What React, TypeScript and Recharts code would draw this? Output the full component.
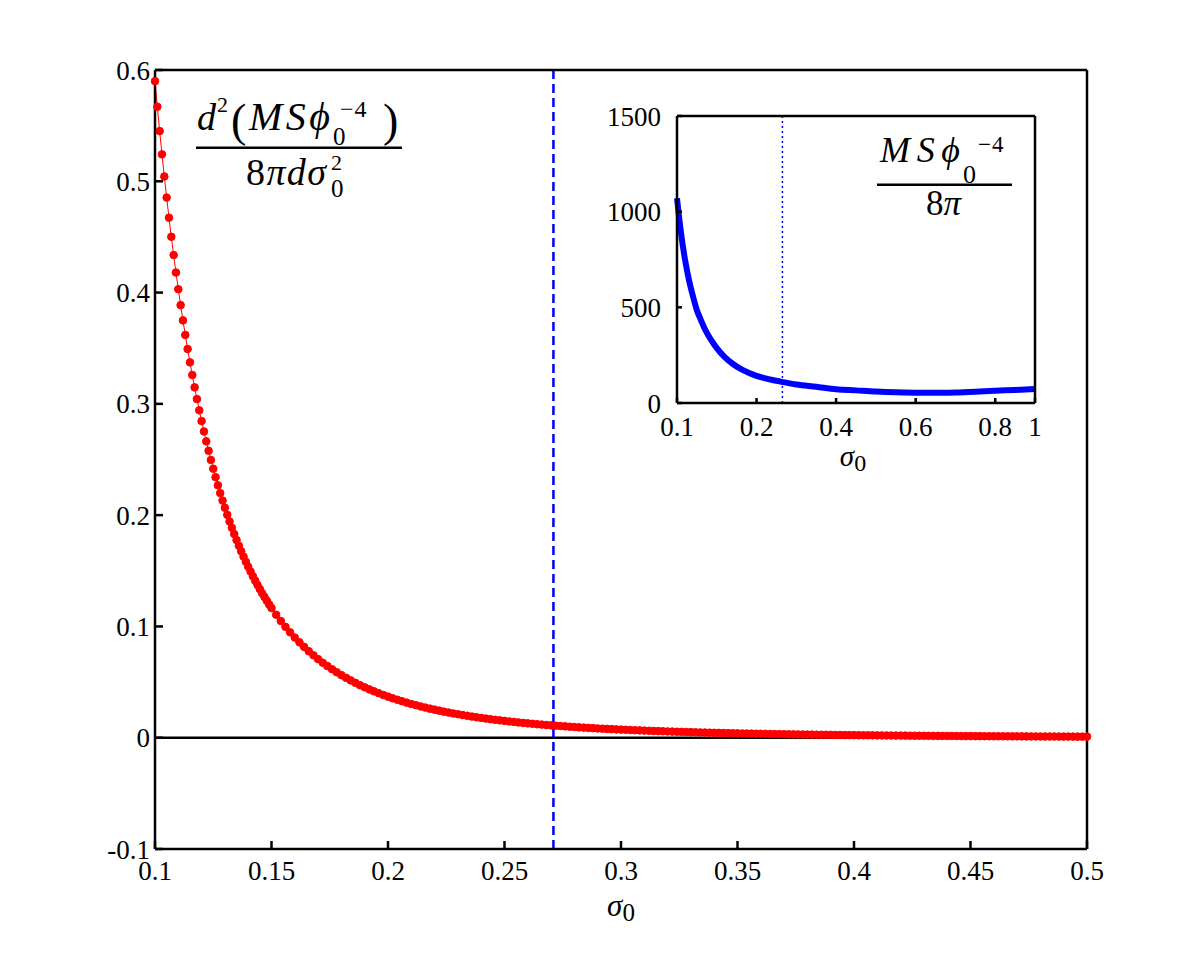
import { LineChart, Line, XAxis, YAxis, ReferenceLine } from "recharts";

// main panel: second derivative, sampled densely near sigma0 = 0.1
const SIGMA_FINE = [
  0.1, 0.101, 0.102, 0.103, 0.104, 0.105, 0.106, 0.107, 0.108, 0.109,
  0.11, 0.111, 0.112, 0.113, 0.114, 0.115, 0.116, 0.117, 0.118, 0.119,
  0.12, 0.121, 0.122, 0.123, 0.124, 0.125, 0.126, 0.127, 0.128, 0.129,
  0.13, 0.131, 0.132, 0.133, 0.134, 0.135, 0.136, 0.137, 0.138, 0.139,
  0.14, 0.141, 0.142, 0.143, 0.144, 0.145, 0.146, 0.147, 0.148, 0.149,
  0.15,
];
const D2_FINE = [
  0.59, 0.567, 0.5451, 0.5242, 0.5043, 0.4854, 0.4673, 0.4501, 0.4337, 0.418,
  0.403, 0.3887, 0.375, 0.3619, 0.3493, 0.3373, 0.3259, 0.3148, 0.3043, 0.2942,
  0.2845, 0.2752, 0.2663, 0.2578, 0.2496, 0.2417, 0.2341, 0.2268, 0.2198, 0.2131,
  0.2066, 0.2003, 0.1943, 0.1886, 0.183, 0.1776, 0.1725, 0.1675, 0.1627, 0.1581,
  0.1536, 0.1493, 0.1451, 0.1411, 0.1372, 0.1335, 0.1298, 0.1264, 0.123, 0.1197,
  0.1165,
];
const SIGMA_COARSE = [
  0.152, 0.154, 0.156, 0.158, 0.16, 0.162, 0.164, 0.166, 0.168, 0.17,
  0.172, 0.174, 0.176, 0.178, 0.18, 0.182, 0.184, 0.186, 0.188, 0.19,
  0.192, 0.194, 0.196, 0.198, 0.2, 0.202, 0.204, 0.206, 0.208, 0.21,
  0.212, 0.214, 0.216, 0.218, 0.22, 0.222, 0.224, 0.226, 0.228, 0.23,
  0.232, 0.234, 0.236, 0.238, 0.24, 0.242, 0.244, 0.246, 0.248, 0.25,
  0.252, 0.254, 0.256, 0.258, 0.26, 0.262, 0.264, 0.266, 0.268, 0.27,
  0.272, 0.274, 0.276, 0.278, 0.28, 0.282, 0.284, 0.286, 0.288, 0.29,
  0.292, 0.294, 0.296, 0.298, 0.3, 0.302, 0.304, 0.306, 0.308, 0.31,
  0.312, 0.314, 0.316, 0.318, 0.32, 0.322, 0.324, 0.326, 0.328, 0.33,
  0.332, 0.334, 0.336, 0.338, 0.34, 0.342, 0.344, 0.346, 0.348, 0.35,
  0.352, 0.354, 0.356, 0.358, 0.36, 0.362, 0.364, 0.366, 0.368, 0.37,
  0.372, 0.374, 0.376, 0.378, 0.38, 0.382, 0.384, 0.386, 0.388, 0.39,
  0.392, 0.394, 0.396, 0.398, 0.4, 0.402, 0.404, 0.406, 0.408, 0.41,
  0.412, 0.414, 0.416, 0.418, 0.42, 0.422, 0.424, 0.426, 0.428, 0.43,
  0.432, 0.434, 0.436, 0.438, 0.44, 0.442, 0.444, 0.446, 0.448, 0.45,
  0.452, 0.454, 0.456, 0.458, 0.46, 0.462, 0.464, 0.466, 0.468, 0.47,
  0.472, 0.474, 0.476, 0.478, 0.48, 0.482, 0.484, 0.486, 0.488, 0.49,
  0.492, 0.494, 0.496, 0.498, 0.5,
];
const D2_COARSE = [
  0.1105, 0.1049, 0.0996, 0.0947, 0.09, 0.0857, 0.0816, 0.0777, 0.0741, 0.0706,
  0.0674, 0.0644, 0.0615, 0.0588, 0.0562, 0.0538, 0.0515, 0.0493, 0.0472, 0.0453,
  0.0434, 0.0417, 0.04, 0.0384, 0.0369, 0.0354, 0.0341, 0.0328, 0.0315, 0.0303,
  0.0292, 0.0281, 0.0271, 0.0261, 0.0252, 0.0243, 0.0234, 0.0226, 0.0218, 0.0211,
  0.0204, 0.0197, 0.019, 0.0184, 0.0178, 0.0172, 0.0166, 0.0161, 0.0156, 0.0151,
  0.0146, 0.0142, 0.0137, 0.0133, 0.0129, 0.0125, 0.0121, 0.0118, 0.0114, 0.0111,
  0.0108, 0.0105, 0.0102, 0.00988, 0.0096, 0.00933, 0.00907, 0.00882, 0.00858, 0.00834,
  0.00812, 0.0079, 0.00769, 0.00748, 0.00728, 0.00709, 0.00691, 0.00673, 0.00656, 0.00639,
  0.00623, 0.00607, 0.00592, 0.00577, 0.00563, 0.00549, 0.00535, 0.00522, 0.0051, 0.00498,
  0.00486, 0.00474, 0.00463, 0.00452, 0.00442, 0.00431, 0.00421, 0.00412, 0.00402, 0.00393,
  0.00384, 0.00376, 0.00367, 0.00359, 0.00351, 0.00344, 0.00336, 0.00329, 0.00322, 0.00315,
  0.00308, 0.00302, 0.00295, 0.00289, 0.00283, 0.00277, 0.00271, 0.00266, 0.0026, 0.00255,
  0.0025, 0.00245, 0.0024, 0.00235, 0.0023, 0.00226, 0.00221, 0.00217, 0.00213, 0.00209,
  0.00205, 0.00201, 0.00197, 0.00193, 0.0019, 0.00186, 0.00183, 0.00179, 0.00176, 0.00173,
  0.00169, 0.00166, 0.00163, 0.0016, 0.00157, 0.00155, 0.00152, 0.00149, 0.00146, 0.00144,
  0.00141, 0.00139, 0.00136, 0.00134, 0.00132, 0.0013, 0.00127, 0.00125, 0.00123, 0.00121,
  0.00119, 0.00117, 0.00115, 0.00113, 0.00111, 0.00109, 0.00108, 0.00106, 0.00104, 0.00102,
  0.00101, 0.00099, 0.00097, 0.00096, 0.00094,
];
const X_TICKS = [0.1, 0.15, 0.2, 0.25, 0.3, 0.35, 0.4, 0.45, 0.5];
const X_TICK_LABELS = ["0.1", "0.15", "0.2", "0.25", "0.3", "0.35", "0.4", "0.45", "0.5"];
const Y_TICKS = [-0.1, 0, 0.1, 0.2, 0.3, 0.4, 0.5, 0.6];
const Y_TICK_LABELS = ["-0.1", "0", "0.1", "0.2", "0.3", "0.4", "0.5", "0.6"];
const SIGMA_MARK = 0.271;

// inset: M S phi^-4 / 8pi (x in axis position units, labelled separately)
const INSET_POS = [
  0, 0.01, 0.02, 0.03, 0.04, 0.05, 0.06, 0.07, 0.08, 0.09, 0.1, 0.12, 0.14, 0.16, 0.18,
  0.2, 0.22, 0.24, 0.26, 0.28, 0.3, 0.35, 0.4, 0.45, 0.5, 0.55, 0.6, 0.65, 0.7, 0.75,
  0.8, 0.85, 0.9,
];
const INSET_VAL = [
  1070, 890, 751, 644, 559, 485, 434, 387, 349, 316, 287, 240, 205, 178, 158,
  142, 130, 120, 112, 104, 97, 85, 72, 66, 60, 56, 54, 53, 55, 59,
  64, 68, 73,
];
const INSET_X_TICKS = [0, 0.2, 0.4, 0.6, 0.8, 0.9];
const INSET_X_LABELS = ["0.1", "0.2", "0.4", "0.6", "0.8", "1"];
const INSET_Y_TICKS = [0, 500, 1000, 1500];
const INSET_MARK = 0.265;

const FONT = '"Liberation Serif", "DejaVu Serif", serif';

const mainData = [
  ...SIGMA_FINE.map((s, i) => ({ s, d2: D2_FINE[i] })),
  ...SIGMA_COARSE.map((s, i) => ({ s, d2: D2_COARSE[i] })),
];
const insetData = INSET_POS.map((p, i) => ({ p, v: INSET_VAL[i] }));

function label(ticks: number[], labels: string[]) {
  return (v: number) => {
    const i = ticks.findIndex((t) => Math.abs(t - v) < 1e-9);
    return i >= 0 ? labels[i] : String(v);
  };
}

const tickStyle = { fill: "#000", fontSize: 27, fontFamily: FONT };
const axisLine = { stroke: "#000", strokeWidth: 2.5 };

function MainChart() {
  return (
    <LineChart
      width={1200}
      height={956}
      data={mainData}
      margin={{ top: 68, right: 111, bottom: 67, left: 95 }}
    >
      <XAxis
        xAxisId="b"
        dataKey="s"
        type="number"
        domain={[0.1, 0.5]}
        ticks={X_TICKS}
        tickFormatter={label(X_TICKS, X_TICK_LABELS)}
        height={40}
        tick={tickStyle}
        axisLine={axisLine}
        tickLine={axisLine}
        tickSize={-8}
        tickMargin={20}
        interval={0}
      />
      <XAxis
        xAxisId="t"
        orientation="top"
        dataKey="s"
        type="number"
        domain={[0.1, 0.5]}
        ticks={X_TICKS}
        height={2}
        tick={false}
        axisLine={axisLine}
        tickLine={axisLine}
        tickSize={-8}
        interval={0}
      />
      <YAxis
        yAxisId="l"
        type="number"
        domain={[-0.1, 0.6]}
        ticks={Y_TICKS}
        tickFormatter={label(Y_TICKS, Y_TICK_LABELS)}
        width={60}
        tick={tickStyle}
        axisLine={axisLine}
        tickLine={axisLine}
        tickSize={-8}
        tickMargin={13}
        interval={0}
      />
      <YAxis
        yAxisId="r"
        orientation="right"
        type="number"
        domain={[-0.1, 0.6]}
        ticks={Y_TICKS}
        width={2}
        tick={false}
        axisLine={axisLine}
        tickLine={axisLine}
        tickSize={-8}
        interval={0}
      />
      <ReferenceLine xAxisId="b" yAxisId="l" y={0} stroke="#000" strokeWidth={2.5} />
      <ReferenceLine
        xAxisId="b"
        yAxisId="l"
        x={SIGMA_MARK}
        stroke="#0000ff"
        strokeWidth={2.5}
        strokeDasharray="9 5"
      />
      <Line
        xAxisId="b"
        yAxisId="l"
        type="linear"
        dataKey="d2"
        stroke="#ff0000"
        strokeWidth={1}
        dot={{ r: 3.8, fill: "#ff0000", stroke: "#ff0000", strokeWidth: 1 }}
        activeDot={false}
        isAnimationActive={false}
      />
    </LineChart>
  );
}

function InsetChart() {
  return (
    <LineChart
      width={460}
      height={380}
      data={insetData}
      margin={{ top: 14, right: 13, bottom: 37, left: 27 }}
    >
      <XAxis
        xAxisId="b"
        dataKey="p"
        type="number"
        domain={[0, 0.9]}
        ticks={INSET_X_TICKS}
        tickFormatter={label(INSET_X_TICKS, INSET_X_LABELS)}
        height={40}
        tick={tickStyle}
        axisLine={axisLine}
        tickLine={axisLine}
        tickSize={-5}
        tickMargin={19}
        interval={0}
      />
      <XAxis
        xAxisId="t"
        orientation="top"
        dataKey="p"
        type="number"
        domain={[0, 0.9]}
        ticks={INSET_X_TICKS}
        height={2}
        tick={false}
        axisLine={axisLine}
        tickLine={axisLine}
        tickSize={-5}
        interval={0}
      />
      <YAxis
        yAxisId="l"
        type="number"
        domain={[0, 1500]}
        ticks={INSET_Y_TICKS}
        width={60}
        tick={tickStyle}
        axisLine={axisLine}
        tickLine={axisLine}
        tickSize={-5}
        tickMargin={21}
        interval={0}
      />
      <YAxis
        yAxisId="r"
        orientation="right"
        type="number"
        domain={[0, 1500]}
        ticks={INSET_Y_TICKS}
        width={2}
        tick={false}
        axisLine={axisLine}
        tickLine={axisLine}
        tickSize={-5}
        interval={0}
      />
      <ReferenceLine
        xAxisId="b"
        yAxisId="l"
        x={INSET_MARK}
        stroke="#0000ff"
        strokeWidth={1.5}
        strokeDasharray="2 3"
      />
      <Line
        xAxisId="b"
        yAxisId="l"
        type="monotone"
        dataKey="v"
        stroke="#0000ff"
        strokeWidth={6}
        dot={false}
        activeDot={false}
        isAnimationActive={false}
      />
    </LineChart>
  );
}

function Annotations() {
  const it = { fontStyle: "italic" as const };
  const sp = { lengthAdjust: "spacing" as const };
  return (
    <svg
      width={1200}
      height={956}
      style={{ position: "absolute", left: 0, top: 0, pointerEvents: "none" }}
      fontFamily={FONT}
      fill="#000"
    >
      {/* main formula: numerator */}
      <text x={197} y={130} fontSize={38} {...it}>d</text>
      <text x={217} y={112} fontSize={22}>2</text>
      <text x={231} y={136} fontSize={46}>(</text>
      <text x={249} y={130} fontSize={40} textLength={81} {...sp} {...it}>MSϕ</text>
      <text x={333} y={145} fontSize={25}>0</text>
      <text x={340} y={117} fontSize={24} letterSpacing={1}>−4</text>
      <text x={383} y={136} fontSize={46}>)</text>
      <rect x={196} y={146.5} width={206} height={2.5} />
      {/* denominator */}
      <text x={246} y={185} fontSize={38} textLength={80} {...sp}>
        8<tspan {...it}>πdσ</tspan>
      </text>
      <text x={331} y={170} fontSize={22}>2</text>
      <text x={331} y={197} fontSize={25}>0</text>

      {/* inset formula */}
      <text x={880} y={162} fontSize={36} textLength={80} {...sp} {...it}>MSϕ</text>
      <text x={978} y={152} fontSize={23} letterSpacing={1}>−4</text>
      <text x={963} y={183} fontSize={26}>0</text>
      <rect x={877} y={183.5} width={135} height={2.5} />
      <text x={926} y={215} fontSize={35}>
        8<tspan {...it}>π</tspan>
      </text>

      {/* axis titles */}
      <text x={621} y={916} fontSize={31} textAnchor="middle">
        <tspan {...it}>σ</tspan>
        <tspan fontSize={25} dy={5}>0</tspan>
      </text>
      <text x={853} y={466} fontSize={29} textAnchor="middle">
        <tspan {...it}>σ</tspan>
        <tspan fontSize={24} dy={5}>0</tspan>
      </text>
    </svg>
  );
}

export default function App() {
  return (
    <div
      style={{
        position: "absolute",
        left: 0,
        top: 0,
        width: 1200,
        height: 956,
        background: "#fff",
        fontFamily: FONT,
      }}
    >
      <div style={{ position: "absolute", left: 0, top: 0 }}>
        <MainChart />
      </div>
      <div style={{ position: "absolute", left: 590, top: 100 }}>
        <InsetChart />
      </div>
      <Annotations />
    </div>
  );
}
